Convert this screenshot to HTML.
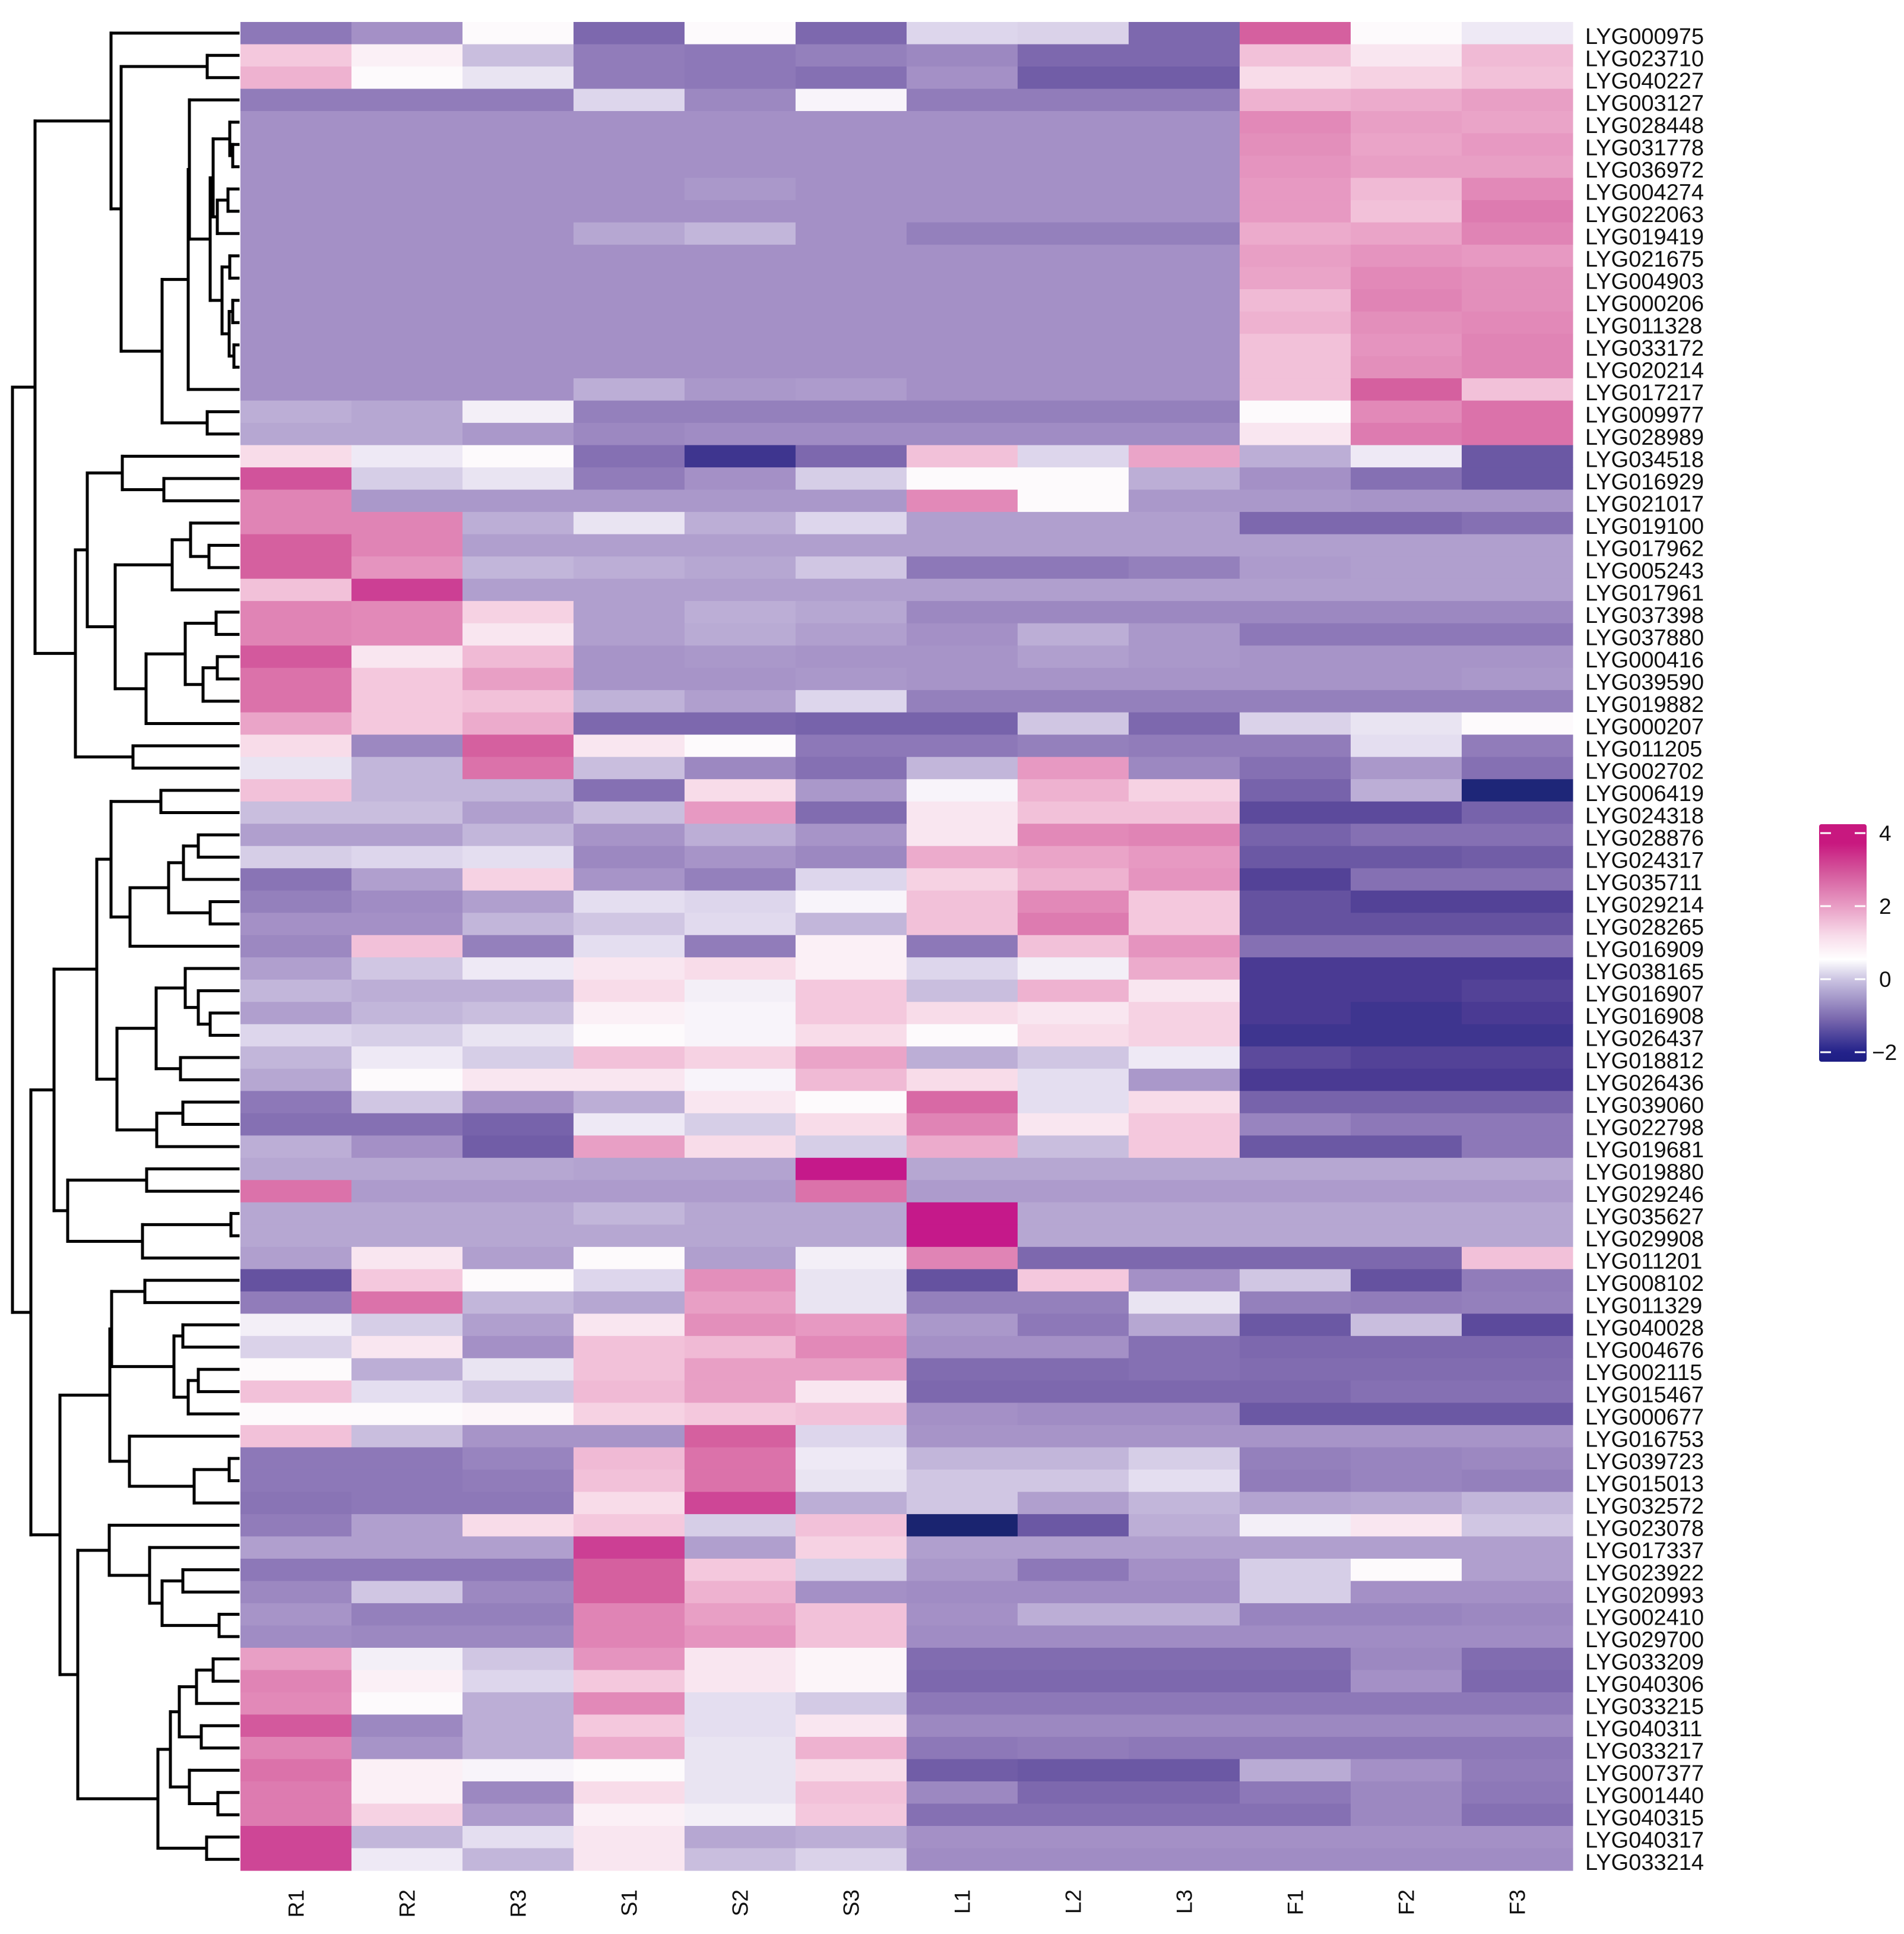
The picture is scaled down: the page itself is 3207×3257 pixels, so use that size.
<!DOCTYPE html>
<html><head><meta charset="utf-8">
<style>
html,body{margin:0;padding:0;background:#fff;}
svg{display:block;}
text{font-family:"Liberation Sans",Arial,sans-serif;fill:#111;}
</style></head>
<body>
<svg id="chart" width="3207" height="3257" viewBox="0 0 3207 3257" xmlns="http://www.w3.org/2000/svg">
<defs>
<linearGradient id="lg" x1="0" y1="0" x2="0" y2="1">
<stop offset="0" stop-color="#c8187f"/>
<stop offset="0.08" stop-color="#c8187f"/>
<stop offset="0.2" stop-color="#d4579c"/>
<stop offset="0.35" stop-color="#e9a0c6"/>
<stop offset="0.47" stop-color="#f8dcea"/>
<stop offset="0.57" stop-color="#ffffff"/>
<stop offset="0.66" stop-color="#c8c0e0"/>
<stop offset="0.82" stop-color="#7a68ae"/>
<stop offset="0.96" stop-color="#23228a"/>
<stop offset="1" stop-color="#1e1e84"/>
</linearGradient>
</defs>
<g id="cells"></g>
<g id="dendro"></g>
<g id="rowlabels"></g>
<g id="collabels"></g>
<g id="legend">
<rect x="3064" y="1388" width="80" height="400" rx="4" fill="url(#lg)"/>
</g>
</svg>
<script>
const samples = ["R1","R2","R3","S1","S2","S3","L1","L2","L3","F1","F2","F3"];
const genes = ["LYG000975","LYG023710","LYG040227","LYG003127","LYG028448","LYG031778","LYG036972","LYG004274","LYG022063","LYG019419","LYG021675","LYG004903","LYG000206","LYG011328","LYG033172","LYG020214","LYG017217","LYG009977","LYG028989","LYG034518","LYG016929","LYG021017","LYG019100","LYG017962","LYG005243","LYG017961","LYG037398","LYG037880","LYG000416","LYG039590","LYG019882","LYG000207","LYG011205","LYG002702","LYG006419","LYG024318","LYG028876","LYG024317","LYG035711","LYG029214","LYG028265","LYG016909","LYG038165","LYG016907","LYG016908","LYG026437","LYG018812","LYG026436","LYG039060","LYG022798","LYG019681","LYG019880","LYG029246","LYG035627","LYG029908","LYG011201","LYG008102","LYG011329","LYG040028","LYG004676","LYG002115","LYG015467","LYG000677","LYG016753","LYG039723","LYG015013","LYG032572","LYG023078","LYG017337","LYG023922","LYG020993","LYG002410","LYG029700","LYG033209","LYG040306","LYG033215","LYG040311","LYG033217","LYG007377","LYG001440","LYG040315","LYG040317","LYG033214"];
const values = [
[-0.8,-0.5,1.0,-1.0,1.0,-1.0,0.4,0.35,-1.0,3.0,1.0,0.7],
[1.5,1.1,0.1,-0.75,-0.8,-0.7,-0.6,-1.0,-1.0,1.6,1.2,1.7],
[1.8,1.0,0.6,-0.75,-0.8,-0.9,-0.5,-1.2,-1.2,1.3,1.4,1.6],
[-0.75,-0.75,-0.75,0.4,-0.6,0.9,-0.75,-0.75,-0.75,1.8,1.9,2.1],
[-0.5,-0.5,-0.5,-0.5,-0.5,-0.5,-0.5,-0.5,-0.5,2.5,2.1,2.0],
[-0.5,-0.5,-0.5,-0.5,-0.5,-0.5,-0.5,-0.5,-0.5,2.4,2.0,2.2],
[-0.5,-0.5,-0.5,-0.5,-0.5,-0.5,-0.5,-0.5,-0.5,2.3,2.1,2.1],
[-0.5,-0.5,-0.5,-0.5,-0.4,-0.5,-0.5,-0.5,-0.5,2.2,1.7,2.5],
[-0.5,-0.5,-0.5,-0.5,-0.5,-0.5,-0.5,-0.5,-0.5,2.2,1.6,2.7],
[-0.5,-0.5,-0.5,-0.2,0.0,-0.5,-0.7,-0.7,-0.7,1.9,2.0,2.6],
[-0.5,-0.5,-0.5,-0.5,-0.5,-0.5,-0.5,-0.5,-0.5,2.1,2.3,2.2],
[-0.5,-0.5,-0.5,-0.5,-0.5,-0.5,-0.5,-0.5,-0.5,2.0,2.5,2.4],
[-0.5,-0.5,-0.5,-0.5,-0.5,-0.5,-0.5,-0.5,-0.5,1.7,2.6,2.4],
[-0.5,-0.5,-0.5,-0.5,-0.5,-0.5,-0.5,-0.5,-0.5,1.8,2.4,2.5],
[-0.5,-0.5,-0.5,-0.5,-0.5,-0.5,-0.5,-0.5,-0.5,1.6,2.3,2.6],
[-0.5,-0.5,-0.5,-0.5,-0.5,-0.5,-0.5,-0.5,-0.5,1.6,2.4,2.6],
[-0.5,-0.5,-0.5,-0.1,-0.4,-0.35,-0.5,-0.5,-0.5,1.6,3.0,1.6],
[-0.1,-0.2,0.8,-0.7,-0.7,-0.7,-0.7,-0.7,-0.7,1.0,2.5,2.8],
[-0.2,-0.2,-0.4,-0.6,-0.55,-0.55,-0.55,-0.55,-0.55,1.2,2.7,2.8],
[1.3,0.7,1.0,-0.9,-1.8,-1.0,1.6,0.4,2.0,-0.1,0.7,-1.3],
[3.2,0.3,0.6,-0.75,-0.5,0.3,1.0,1.0,-0.1,-0.5,-0.9,-1.3],
[2.6,-0.4,-0.4,-0.4,-0.4,-0.4,2.5,1.0,-0.4,-0.4,-0.45,-0.45],
[2.6,2.6,-0.1,0.6,-0.1,0.4,-0.3,-0.3,-0.3,-1.0,-1.0,-0.9],
[3.0,2.6,-0.3,-0.3,-0.3,-0.3,-0.3,-0.3,-0.3,-0.3,-0.3,-0.3],
[3.0,2.3,0.0,-0.1,-0.2,0.2,-0.8,-0.8,-0.7,-0.35,-0.3,-0.3],
[1.6,3.5,-0.3,-0.3,-0.3,-0.3,-0.3,-0.3,-0.3,-0.3,-0.3,-0.3],
[2.6,2.5,1.4,-0.3,-0.1,-0.2,-0.6,-0.6,-0.6,-0.6,-0.6,-0.6],
[2.6,2.5,1.2,-0.3,-0.15,-0.3,-0.5,-0.1,-0.4,-0.8,-0.8,-0.8],
[3.1,1.2,1.7,-0.45,-0.4,-0.45,-0.45,-0.3,-0.4,-0.45,-0.45,-0.45],
[2.8,1.5,2.1,-0.45,-0.45,-0.4,-0.45,-0.45,-0.45,-0.45,-0.45,-0.4],
[2.8,1.5,1.6,-0.05,-0.3,0.4,-0.7,-0.7,-0.7,-0.7,-0.7,-0.7],
[2.0,1.5,1.9,-1.0,-1.0,-1.1,-1.1,0.2,-1.0,0.35,0.6,1.0],
[1.3,-0.6,3.0,1.2,1.0,-0.8,-0.8,-0.7,-0.75,-0.75,0.5,-0.75],
[0.6,0.0,2.8,0.1,-0.6,-0.9,0.0,2.2,-0.6,-0.9,-0.4,-0.9],
[1.6,0.0,0.0,-0.9,1.3,-0.4,0.9,1.8,1.4,-1.1,-0.1,-2.2],
[0.1,0.1,-0.3,0.1,2.2,-0.95,1.2,1.6,1.6,-1.5,-1.5,-1.1],
[-0.3,-0.3,0.0,-0.45,-0.1,-0.45,1.2,2.5,2.6,-1.1,-0.9,-0.9],
[0.3,0.4,0.5,-0.6,-0.45,-0.6,1.9,2.0,2.2,-1.3,-1.3,-1.2],
[-0.85,-0.3,1.4,-0.45,-0.7,0.4,1.4,1.8,2.3,-1.6,-0.9,-0.9],
[-0.7,-0.55,-0.3,0.5,0.4,0.9,1.6,2.5,1.5,-1.4,-1.6,-1.6],
[-0.5,-0.5,0.0,0.2,0.45,0.0,1.6,2.7,1.5,-1.4,-1.4,-1.4],
[-0.6,1.6,-0.7,0.5,-0.75,1.1,-0.8,1.6,2.3,-0.9,-0.9,-0.9],
[-0.3,0.2,0.7,1.2,1.3,1.1,0.4,0.8,1.9,-1.7,-1.7,-1.7],
[0.0,-0.1,-0.1,1.3,0.8,1.5,0.1,1.8,1.2,-1.7,-1.7,-1.6],
[-0.3,0.0,0.1,1.1,0.9,1.5,1.3,1.2,1.4,-1.7,-1.8,-1.7],
[0.4,0.3,0.6,1.0,0.9,1.3,1.0,1.3,1.4,-1.8,-1.8,-1.8],
[0.0,0.7,0.3,1.6,1.4,2.0,-0.1,0.2,0.7,-1.5,-1.6,-1.6],
[-0.2,1.0,1.2,1.2,0.9,1.7,1.3,0.5,-0.4,-1.7,-1.7,-1.7],
[-0.8,0.2,-0.5,-0.1,1.2,1.0,2.9,0.5,1.3,-1.1,-1.1,-1.1],
[-0.9,-0.9,-1.1,0.7,0.3,1.3,2.6,1.2,1.5,-0.65,-0.8,-0.8],
[-0.1,-0.5,-1.2,2.1,1.3,0.3,1.9,0.1,1.5,-1.3,-1.3,-0.8],
[-0.2,-0.2,-0.2,-0.25,-0.25,4.0,-0.2,-0.2,-0.2,-0.2,-0.2,-0.2],
[2.8,-0.35,-0.35,-0.35,-0.35,2.8,-0.35,-0.35,-0.35,-0.35,-0.35,-0.35],
[-0.2,-0.2,-0.2,0.0,-0.2,-0.2,4.0,-0.2,-0.2,-0.2,-0.2,-0.2],
[-0.2,-0.2,-0.2,-0.2,-0.2,-0.2,4.0,-0.2,-0.2,-0.2,-0.2,-0.2],
[-0.3,1.2,-0.3,1.0,-0.3,0.8,2.6,-1.0,-1.0,-1.0,-1.0,1.6],
[-1.4,1.5,1.0,0.4,2.4,0.6,-1.4,1.5,-0.5,0.2,-1.4,-0.75],
[-0.75,2.8,0.0,-0.2,2.1,0.6,-0.7,-0.7,0.6,-0.7,-0.75,-0.7],
[0.8,0.3,-0.3,1.2,2.4,2.2,-0.4,-0.8,-0.2,-1.3,0.1,-1.5],
[0.35,1.2,-0.5,1.6,1.7,2.5,-0.5,-0.5,-0.9,-1.0,-1.0,-1.0],
[1.0,-0.1,0.6,1.6,2.1,2.1,-0.95,-0.95,-0.9,-0.95,-0.95,-0.95],
[1.6,0.5,0.2,1.7,2.1,1.2,-1.0,-1.0,-1.0,-1.0,-0.9,-0.9],
[1.0,1.0,1.05,1.4,1.5,1.6,-0.5,-0.55,-0.55,-1.3,-1.3,-1.3],
[1.6,0.1,-0.45,-0.45,3.0,0.4,-0.45,-0.45,-0.45,-0.45,-0.45,-0.45],
[-0.8,-0.8,-0.65,1.7,2.8,0.7,0.0,0.0,0.3,-0.7,-0.65,-0.6],
[-0.8,-0.8,-0.75,1.6,2.8,0.6,0.2,0.2,0.5,-0.75,-0.65,-0.7],
[-0.85,-0.8,-0.8,1.3,3.4,-0.1,0.2,-0.3,0.0,-0.25,-0.2,0.0],
[-0.75,-0.3,1.3,1.5,0.3,1.6,-2.3,-1.3,-0.1,0.8,1.2,0.2],
[-0.3,-0.3,-0.3,3.5,-0.3,1.4,-0.3,-0.3,-0.3,-0.3,-0.3,-0.3],
[-0.8,-0.8,-0.8,3.0,1.5,0.3,-0.4,-0.8,-0.5,0.3,1.0,-0.3],
[-0.6,0.2,-0.6,3.0,1.8,-0.5,-0.55,-0.55,-0.55,0.3,-0.5,-0.5],
[-0.45,-0.7,-0.7,2.6,2.1,1.6,-0.5,-0.1,-0.1,-0.65,-0.65,-0.6],
[-0.55,-0.6,-0.6,2.6,2.3,1.6,-0.55,-0.55,-0.55,-0.55,-0.55,-0.55],
[2.1,0.8,0.2,2.3,1.2,1.05,-0.95,-0.95,-0.95,-0.95,-0.6,-0.95],
[2.6,1.1,0.4,1.5,1.2,1.05,-1.0,-1.0,-1.0,-1.0,-0.5,-1.0],
[2.5,1.0,-0.1,2.5,0.5,0.25,-0.8,-0.8,-0.8,-0.8,-0.8,-0.8],
[3.1,-0.6,-0.1,1.5,0.5,1.2,-0.6,-0.6,-0.6,-0.6,-0.6,-0.6],
[2.6,-0.45,-0.1,1.9,0.6,1.8,-0.8,-0.75,-0.8,-0.8,-0.8,-0.8],
[2.8,1.1,0.9,1.0,0.6,1.3,-1.2,-1.3,-1.3,-0.15,-0.5,-0.75],
[2.7,1.1,-0.6,1.3,0.6,1.6,-0.6,-1.0,-1.0,-0.8,-0.6,-0.8],
[2.7,1.4,-0.35,1.1,0.8,1.5,-0.9,-0.9,-0.9,-0.9,-0.6,-0.9],
[3.4,0.0,0.5,1.2,-0.2,-0.1,-0.5,-0.5,-0.5,-0.5,-0.5,-0.5],
[3.4,0.7,0.0,1.2,0.1,0.35,-0.55,-0.55,-0.55,-0.55,-0.55,-0.55]
];
// dendrogram merges: [height, left, right]; leaf = row index
const n5_6=[9,5,6], n4_6=[14,4,n5_6], n7_8=[17,7,8], n7_9=[35,n7_8,9], n4_9=[42,n4_6,n7_9];
const n10_11=[14,10,11], n12_13=[9,12,13], n14_15=[7,14,15], n12_15=[15,n12_13,n14_15], n10_15=[27,n10_11,n12_15];
const n4_15=[47,n4_9,n10_15], n3_15=[82,3,n4_15], n3_16=[84,n3_15,16], n17_18=[52,17,18], n3_18=[128,n3_16,n17_18];
const n1_2=[52,1,2], n1_18=[197,n1_2,n3_18], n0_18=[214,0,n1_18];
const n20_21=[125,20,21], n19_21=[195,19,n20_21], n23_24=[49,23,24], n22_24=[80,22,n23_24], n22_25=[111,n22_24,25];
const n26_27=[37,26,27], n28_29=[35,28,29], n28_30=[59,n28_29,30], n26_30=[89,n26_27,n28_30], n26_31=[155,n26_30,31];
const n22_31=[207,n22_25,n26_31], n19_31=[254,n19_21,n22_31], n32_33=[177,32,33], n19_33=[274,n19_31,n32_33];
const n0_33=[342,n0_18,n19_33];
const n34_35=[130,34,35], n36_37=[67,36,37], n36_38=[92,n36_37,38], n39_40=[47,39,40], n36_40=[117,n36_38,n39_40], n36_41=[182,n36_40,41], n34_41=[214,n34_35,n36_41];
const n44_45=[47,44,45], n43_45=[67,43,n44_45], n42_45=[89,42,n43_45], n46_47=[97,46,47], n42_47=[138,n42_45,n46_47];
const n48_49=[93,48,49], n48_50=[137,n48_49,50], n42_50=[204,n42_47,n48_50], n34_50=[238,n34_41,n42_50];
const n51_52=[154,51,52], n53_54=[12,53,54], n53_55=[161,n53_54,55], n51_55=[287,n51_52,n53_55], n34_55=[310,n34_50,n51_55];
const n56_57=[157,56,57], n58_59=[93,58,59], n60_61=[67,60,61], n60_62=[84,n60_61,62], n58_62=[108,n58_59,n60_62];
const n64_65=[15,64,65], n64_66=[74,n64_65,66], n63_66=[183,63,n64_66], n56_62=[213,n56_57,n58_62], n56_66=[216,n56_62,n63_66];
const n69_70=[93,69,70], n71_72=[32,71,72], n69_72=[128,n69_70,n71_72], n68_72=[149,68,n69_72], n67_72=[217,67,n68_72];
const n73_74=[42,73,74], n73_75=[70,n73_74,75], n76_77=[62,76,77], n73_77=[99,n73_75,n76_77];
const n79_80=[34,79,80], n78_80=[82,78,n79_80], n73_80=[114,n73_77,n78_80], n81_82=[53,81,82], n73_82=[135,n73_80,n81_82];
const n67_82=[270,n67_72,n73_82], n56_82=[300,n56_66,n67_82], n34_82=[349,n34_55,n56_82];
const tree=[380,n0_33,n34_82];
const legendTicks=[4,2,0,-2];

const NS="http://www.w3.org/2000/svg";
const X0=405, CW=(2649-405)/12, Y0=37, RH=(3150-37)/83, LEAFX=401;
const xPos=c=>X0+c*CW, yPos=r=>Y0+r*RH;
const stops=[[-2.3,[26,36,112]],[-2.0,[39,42,136]],[-1.7,[74,58,147]],[-1.4,[101,82,160]],[-1.0,[125,104,174]],[-0.5,[164,144,198]],[0,[194,182,218]],[0.5,[228,222,240]],[1.0,[253,250,252]],[1.5,[244,200,221]],[2.0,[234,164,200]],[2.6,[224,132,181]],[3.0,[213,96,159]],[3.5,[204,63,148]],[4.0,[197,25,138]]];
function color(v){
  if(v<=stops[0][0]) return "rgb("+stops[0][1]+")";
  for(let i=1;i<stops.length;i++){
    if(v<=stops[i][0]){const a=stops[i-1],b=stops[i],t=(v-a[0])/(b[0]-a[0]);
      return "rgb("+a[1].map((c,k)=>Math.round(c+(b[1][k]-c)*t)).join(",")+")";}
  }
  return "rgb("+stops[stops.length-1][1]+")";
}
const cells=document.getElementById("cells");
values.forEach((row,r)=>row.forEach((v,c)=>{
  const el=document.createElementNS(NS,"rect");
  el.setAttribute("x",xPos(c));el.setAttribute("y",yPos(r));
  el.setAttribute("width",CW+0.6);el.setAttribute("height",RH+0.6);
  el.setAttribute("fill",color(v));
  
  
  cells.appendChild(el);
}));
const rl=document.getElementById("rowlabels");
genes.forEach((g,r)=>{
  const t=document.createElementNS(NS,"text");
  t.setAttribute("x",2670);t.setAttribute("y",yPos(r)+RH/2+18);
  t.setAttribute("font-size","38");t.textContent=g;
  
  
  rl.appendChild(t);
});
const cl=document.getElementById("collabels");
samples.forEach((s,c)=>{
  const t=document.createElementNS(NS,"text");
  const cx=xPos(c)+CW/2+13, cy=3182;
  t.setAttribute("x",cx);t.setAttribute("y",cy);
  t.setAttribute("text-anchor","end");t.setAttribute("font-size","37");
  t.setAttribute("transform","rotate(-90 "+cx+" "+cy+")");
  t.textContent=s;
  
  
  cl.appendChild(t);
});
const dg=document.getElementById("dendro");
function line(x1,y1,x2,y2){
  const l=document.createElementNS(NS,"line");
  l.setAttribute("x1",x1);l.setAttribute("y1",y1);l.setAttribute("x2",x2);l.setAttribute("y2",y2);
  l.setAttribute("stroke","#000");l.setAttribute("stroke-width","5");l.setAttribute("stroke-linecap","square");
  
  
  dg.appendChild(l);
}
function draw(n){
  if(typeof n==="number") return {x:LEAFX,y:yPos(n)+RH/2};
  const a=draw(n[1]), b=draw(n[2]), x=LEAFX-n[0];
  line(x,a.y,x,b.y);line(x,a.y,a.x,a.y);line(x,b.y,b.x,b.y);
  return {x:x,y:(a.y+b.y)/2};
}
draw(tree);
const lg=document.getElementById("legend");
const lv=v=>1403+(4-v)*61.5;
legendTicks.forEach(v=>{
  const y=lv(v);
  [[3066,3084],[3124,3142]].forEach(p=>{
    const l=document.createElementNS(NS,"line");
    l.setAttribute("x1",p[0]);l.setAttribute("x2",p[1]);l.setAttribute("y1",y);l.setAttribute("y2",y);
    l.setAttribute("stroke","#fff");l.setAttribute("stroke-width","3");
    
    
    lg.appendChild(l);
  });
  const t=document.createElementNS(NS,"text");
  t.setAttribute("x",v<0?3153:3165);t.setAttribute("y",y+13);t.setAttribute("font-size","37");
  t.textContent=v<0?"\u2212"+Math.abs(v):String(v);
  
  
  lg.appendChild(t);
});
</script>
</body></html>
